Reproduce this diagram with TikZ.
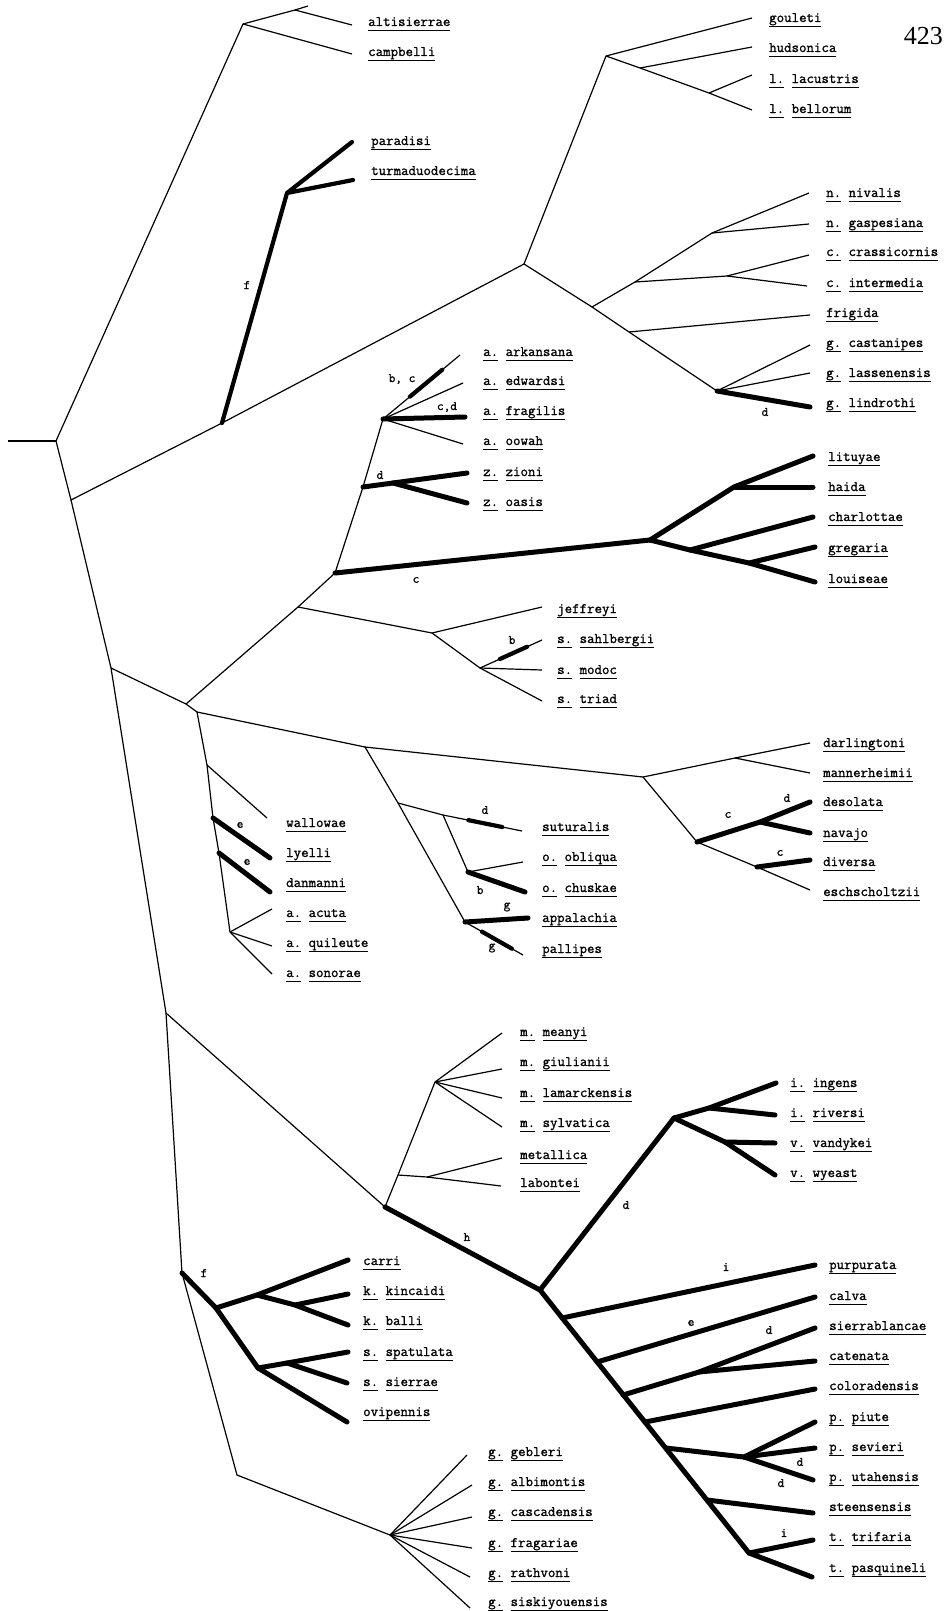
\documentclass[tikz,border=0pt]{standalone}
\usepackage{fontspec}
\newfontfamily\pagefont{Liberation Serif}
\newfontfamily\labfont{Latin Modern Mono}[FakeBold=1.2]
\usetikzlibrary{calc}
\newcommand\ulw[1]{\setbox0=\hbox{#1}\rlap{\rule[-4.5pt]{\wd0}{0.9pt}}\box0\relax}
\begin{document}
\begin{tikzpicture}[x=1pt,y=-1pt,
  br/.style={line width=1.2pt, line join=round},
  fat/.style={line width=5pt, line cap=round, line join=round},
  mid/.style={line width=4.2pt, line cap=round},
  lab/.style={anchor=base west, inner sep=0pt, font=\labfont\fontsize{14.5}{16}\selectfont},
  mk/.style={inner sep=0pt, font=\labfont\fontsize{13}{14}\selectfont}]
\useasboundingbox (0,0) rectangle (944,1611);
\fill[white] (0,0) rectangle (944,1611);

% ---------- coordinates: internal nodes ----------
\coordinate (s0) at (8,441);
\coordinate (R) at (56,441);
\coordinate (A1) at (243,24);
\coordinate (A2) at (295,10);
\coordinate (A2t) at (308,6);
\coordinate (B) at (71,500);
\coordinate (C) at (222,423);
\coordinate (F1) at (287,193);
\coordinate (D) at (524,264);
\coordinate (E) at (606,56);
\coordinate (F) at (640,68);
\coordinate (G) at (709,93);
\coordinate (H) at (592,307);
\coordinate (K) at (635,282);
\coordinate (J) at (712,233);
\coordinate (L) at (727,276);
\coordinate (M) at (629,332);
\coordinate (N) at (717,391);
\coordinate (O) at (111,668);
\coordinate (Q) at (186,704);
\coordinate (T) at (298,607);
\coordinate (S) at (335,573);
\coordinate (Y) at (363,487);
\coordinate (X) at (383,419);
\coordinate (Yz) at (393,483);
\coordinate (U) at (432,633);
\coordinate (V) at (480,668);
\coordinate (W) at (650,540);
\coordinate (Z1) at (734,487);
\coordinate (Z2) at (690,550);
\coordinate (Z3) at (749,563);
\coordinate (AA) at (197,712);
\coordinate (AE1) at (207,765);
\coordinate (AE2) at (213,818);
\coordinate (AE3) at (219,853);
\coordinate (AD) at (230,932);
\coordinate (AB) at (365,747);
\coordinate (AG) at (398,803);
\coordinate (AH) at (443,815);
\coordinate (AI) at (468,872);
\coordinate (AF) at (465,922);
\coordinate (AC) at (643,777);
\coordinate (AJ) at (735,758);
\coordinate (AK) at (697,842);
\coordinate (AL) at (760,822);
\coordinate (AM) at (757,867);
\coordinate (P) at (166,1013);
\coordinate (BA) at (385,1207);
\coordinate (BD) at (398,1175);
\coordinate (BC) at (435,1082);
\coordinate (BE) at (427,1177);
\coordinate (BF) at (540,1290);
\coordinate (BG) at (674,1118);
\coordinate (BH) at (709,1108);
\coordinate (BI) at (725,1142);
\coordinate (BJ) at (749,1553);
\coordinate (n1) at (562,1318);
\coordinate (n2) at (597,1362);
\coordinate (n3) at (623,1395);
\coordinate (n4) at (645,1422);
\coordinate (n5) at (666,1448);
\coordinate (n6) at (707,1500);
\coordinate (SB) at (699,1372);
\coordinate (PN) at (744,1457);
\coordinate (BB) at (182,1273);
\coordinate (BK) at (216,1308);
\coordinate (BL) at (258,1368);
\coordinate (BM) at (257,1295);
\coordinate (BN) at (295,1305);
\coordinate (BQ) at (287,1363);
\coordinate (BO) at (237,1475);
\coordinate (BP) at (390,1535);

% ---------- coordinates: branch ends ----------
\coordinate (eAlt) at (352,25);
\coordinate (eCamp) at (352,54);
\coordinate (ePar) at (352,142);
\coordinate (eTur) at (353,180);
\coordinate (eGou) at (752,18);
\coordinate (eHud) at (752,47);
\coordinate (eLac) at (752,75);
\coordinate (eBel) at (752,110);
\coordinate (eNiv) at (809,193);
\coordinate (eGas) at (809,224);
\coordinate (eCra) at (809,255);
\coordinate (eInt) at (807,286);
\coordinate (eFri) at (810,315);
\coordinate (eCas) at (810,345);
\coordinate (eLas) at (810,373);
\coordinate (eLin) at (810,407);
\coordinate (eArk) at (460,355);
\coordinate (eEdw) at (463,383);
\coordinate (eFra) at (465,417);
\coordinate (eOow) at (463,444);
\coordinate (eZio) at (467,473);
\coordinate (eOas) at (467,503);
\coordinate (eJef) at (542,607);
\coordinate (eSah) at (542,640);
\coordinate (eMod) at (542,670);
\coordinate (eTri) at (542,701);
\coordinate (eLit) at (813,456);
\coordinate (eHai) at (813,487);
\coordinate (eCha) at (813,517);
\coordinate (eGre) at (815,547);
\coordinate (eLou) at (815,582);
\coordinate (eWal) at (267,818);
\coordinate (eLye) at (270,858);
\coordinate (eDan) at (270,892);
\coordinate (eAcu) at (272,909);
\coordinate (eQui) at (272,946);
\coordinate (eSon) at (272,974);
\coordinate (eSut) at (522,831);
\coordinate (eObl) at (523,862);
\coordinate (eChu) at (525,892);
\coordinate (eApp) at (528,918);
\coordinate (ePal) at (523,955);
\coordinate (eDar) at (810,743);
\coordinate (eMan) at (810,773);
\coordinate (eDes) at (810,802);
\coordinate (eNav) at (810,833);
\coordinate (eDiv) at (810,860);
\coordinate (eEsc) at (810,890);
\coordinate (eMea) at (502,1033);
\coordinate (eGiu) at (502,1069);
\coordinate (eLam) at (502,1098);
\coordinate (eSyl) at (502,1127);
\coordinate (eMet) at (502,1158);
\coordinate (eLab) at (501,1186);
\coordinate (eIng) at (776,1083);
\coordinate (eRiv) at (775,1115);
\coordinate (eVan) at (775,1143);
\coordinate (eWye) at (775,1175);
\coordinate (ePur) at (815,1265);
\coordinate (eCal) at (815,1297);
\coordinate (eSie) at (815,1328);
\coordinate (eCat) at (815,1361);
\coordinate (eCol) at (815,1389);
\coordinate (ePiu) at (815,1422);
\coordinate (eSev) at (815,1448);
\coordinate (eUta) at (813,1480);
\coordinate (eSte) at (813,1513);
\coordinate (eTrf) at (813,1540);
\coordinate (ePas) at (812,1577);
\coordinate (eCar) at (348,1260);
\coordinate (eKin) at (348,1294);
\coordinate (eBal) at (348,1325);
\coordinate (eSpa) at (348,1352);
\coordinate (eSir) at (347,1383);
\coordinate (eOvi) at (347,1422);
\coordinate (eGeb) at (467,1455);
\coordinate (eAlb) at (472,1485);
\coordinate (eCsc) at (472,1517);
\coordinate (eFrg) at (472,1548);
\coordinate (eRat) at (470,1577);
\coordinate (eSis) at (470,1608);

% ---------- branches ----------
\draw[br] (s0) -- (R);
\draw[br] (R) -- (A1) -- (A2) -- (A2t);
\draw[br] (A2) -- (eAlt);
\draw[br] (A1) -- (eCamp);
\draw[br] (R) -- (B) -- (C) -- (D);
\draw[mid, line join=round] (C) -- (F1) -- (ePar);
\draw[mid] (F1) -- (eTur);
\draw[br] (D) -- (E) -- (eGou);
\draw[br] (E) -- (F) -- (G) -- (eBel);
\draw[br] (F) -- (eHud);
\draw[br] (G) -- (eLac);
\draw[br] (D) -- (H) -- (K) -- (J) -- (eNiv);
\draw[br] (J) -- (eGas);
\draw[br] (K) -- (L) -- (eCra);
\draw[br] (L) -- (eInt);
\draw[br] (H) -- (M) -- (N) -- (eCas);
\draw[br] (M) -- (eFri);
\draw[br] (N) -- (eLas);
\draw[fat] (N) -- (eLin);

\draw[br] (B) -- (O) -- (P) -- (BB);
\draw[br] (O) -- (Q) -- (T) -- (S) -- (Y) -- (X);
\draw[br] (X) -- (eArk);
\draw[mid] ($(X)!0.35!(eArk)$) -- ($(X)!0.77!(eArk)$);
\draw[br] (X) -- (eEdw);
\draw[fat] (X) -- (eFra);
\draw[br] (X) -- (eOow);
\draw[fat] (Y) -- (Yz) -- (eZio);
\draw[fat] (Yz) -- (eOas);
\draw[fat] (S) -- (W);
\draw[fat] (W) -- (Z1) -- (eLit);
\draw[fat] (Z1) -- (eHai);
\draw[fat] (W) -- (Z2) -- (eCha);
\draw[fat] (Z2) -- (Z3) -- (eGre);
\draw[fat] (Z3) -- (eLou);
\draw[br] (T) -- (U) -- (eJef);
\draw[br] (U) -- (V) -- (eSah);
\draw[mid] ($(V)!0.32!(eSah)$) -- ($(V)!0.76!(eSah)$);
\draw[br] (V) -- (eMod);
\draw[br] (V) -- (eTri);

\draw[br] (Q) -- (AA) -- (AE1) -- (AE2) -- (AE3) -- (AD);
\draw[br] (AE1) -- (eWal);
\draw[fat] (AE2) -- (eLye);
\draw[fat] (AE3) -- (eDan);
\draw[br] (AD) -- (eAcu);
\draw[br] (AD) -- (eQui);
\draw[br] (AD) -- (eSon);
\draw[br] (AA) -- (AB) -- (AC);
\draw[br] (AB) -- (AG) -- (AF);
\draw[br] (AG) -- (AH) -- (eSut);
\draw[mid] ($(AH)!0.32!(eSut)$) -- ($(AH)!0.75!(eSut)$);
\draw[br] (AH) -- (AI) -- (eObl);
\draw[fat] (AI) -- (eChu);
\draw[fat] (AF) -- (eApp);
\draw[br] (AF) -- (ePal);
\draw[mid] ($(AF)!0.29!(ePal)$) -- ($(AF)!0.81!(ePal)$);
\draw[br] (AC) -- (AJ) -- (eDar);
\draw[br] (AJ) -- (eMan);
\draw[br] (AC) -- (AK) -- (AM) -- (eEsc);
\draw[fat] (AK) -- (AL) -- (eDes);
\draw[fat] (AL) -- (eNav);
\draw[fat] (AM) -- (eDiv);

\draw[br] (P) -- (BA) -- (BD) -- (BC);
\draw[br] (BC) -- (eMea);
\draw[br] (BC) -- (eGiu);
\draw[br] (BC) -- (eLam);
\draw[br] (BC) -- (eSyl);
\draw[br] (BD) -- (BE) -- (eMet);
\draw[br] (BE) -- (eLab);
\draw[fat] (BA) -- (BF) -- (BG) -- (BH) -- (eIng);
\draw[fat] (BH) -- (eRiv);
\draw[fat] (BG) -- (BI) -- (eVan);
\draw[fat] (BI) -- (eWye);
\draw[fat] (BF) -- (BJ) -- (ePas);
\draw[fat] (BJ) -- (eTrf);
\draw[fat] (n1) -- (ePur);
\draw[fat] (n2) -- (eCal);
\draw[fat] (n3) -- (SB) -- (eSie);
\draw[fat] (SB) -- (eCat);
\draw[fat] (n4) -- (eCol);
\draw[fat] (n5) -- (PN) -- (ePiu);
\draw[fat] (PN) -- (eSev);
\draw[fat] (PN) -- (eUta);
\draw[fat] (n6) -- (eSte);

\draw[fat] (BB) -- (BK) -- (BL) -- (eOvi);
\draw[fat] (BK) -- (BM) -- (eCar);
\draw[fat] (BM) -- (BN) -- (eBal);
\draw[fat] (BN) -- (eKin);
\draw[fat] (BL) -- (BQ) -- (eSpa);
\draw[fat] (BQ) -- (eSir);
\draw[br] (BB) -- (BO) -- (BP);
\draw[br] (BP) -- (eGeb);
\draw[br] (BP) -- (eAlb);
\draw[br] (BP) -- (eCsc);
\draw[br] (BP) -- (eFrg);
\draw[br] (BP) -- (eRat);
\draw[br] (BP) -- (eSis);

% ---------- taxon labels ----------
\node[lab] (tAlt) at (368,26) {\ulw{altisierrae}};
\node[lab] (tCamp) at (368,56) {\ulw{campbelli}};
\node[lab] (tPar) at (371,145) {\ulw{paradisi}};
\node[lab] (tTur) at (371,175) {\ulw{turmaduodecima}};
\node[lab] (tGou) at (769,22) {\ulw{gouleti}};
\node[lab] (tHud) at (769,52) {\ulw{hudsonica}};
\node[lab] (tLac) at (769,83) {\ulw{l.} \ulw{lacustris}};
\node[lab] (tBel) at (769,113) {\ulw{l.} \ulw{bellorum}};
\node[lab] (tNiv) at (826,197) {\ulw{n.} \ulw{nivalis}};
\node[lab] (tGas) at (826,227) {\ulw{n.} \ulw{gaspesiana}};
\node[lab] (tCra) at (826,256) {\ulw{c.} \ulw{crassicornis}};
\node[lab] (tInt) at (826,287) {\ulw{c.} \ulw{intermedia}};
\node[lab] (tFri) at (826,317) {\ulw{frigida}};
\node[lab] (tCas) at (826,347) {\ulw{g.} \ulw{castanipes}};
\node[lab] (tLas) at (826,377) {\ulw{g.} \ulw{lassenensis}};
\node[lab] (tLin) at (826,407) {\ulw{g.} \ulw{lindrothi}};
\node[lab] (tArk) at (483,356) {\ulw{a.} \ulw{arkansana}};
\node[lab] (tEdw) at (483,385) {\ulw{a.} \ulw{edwardsi}};
\node[lab] (tFra) at (483,415) {\ulw{a.} \ulw{fragilis}};
\node[lab] (tOow) at (483,445) {\ulw{a.} \ulw{oowah}};
\node[lab] (tZio) at (483,476) {\ulw{z.} \ulw{zioni}};
\node[lab] (tOas) at (483,506) {\ulw{z.} \ulw{oasis}};
\node[lab] (tLit) at (828,461) {\ulw{lituyae}};
\node[lab] (tHai) at (828,491) {\ulw{haida}};
\node[lab] (tCha) at (828,521) {\ulw{charlottae}};
\node[lab] (tGre) at (828,552) {\ulw{gregaria}};
\node[lab] (tLou) at (828,583) {\ulw{louiseae}};
\node[lab] (tJef) at (557,613) {\ulw{jeffreyi}};
\node[lab] (tSah) at (557,643) {\ulw{s.} \ulw{sahlbergii}};
\node[lab] (tMod) at (557,674) {\ulw{s.} \ulw{modoc}};
\node[lab] (tTri) at (557,703) {\ulw{s.} \ulw{triad}};
\node[lab] (tWal) at (286,827) {\ulw{wallowae}};
\node[lab] (tLye) at (286,857) {\ulw{lyelli}};
\node[lab] (tDan) at (286,887) {\ulw{danmanni}};
\node[lab] (tAcu) at (286,917) {\ulw{a.} \ulw{acuta}};
\node[lab] (tQui) at (286,947) {\ulw{a.} \ulw{quileute}};
\node[lab] (tSon) at (286,977) {\ulw{a.} \ulw{sonorae}};
\node[lab] (tSut) at (542,831) {\ulw{suturalis}};
\node[lab] (tObl) at (542,861) {\ulw{o.} \ulw{obliqua}};
\node[lab] (tChu) at (542,892) {\ulw{o.} \ulw{chuskae}};
\node[lab] (tApp) at (542,922) {\ulw{appalachia}};
\node[lab] (tPal) at (542,953) {\ulw{pallipes}};
\node[lab] (tDar) at (823,747) {\ulw{darlingtoni}};
\node[lab] (tMan) at (823,777) {\ulw{mannerheimii}};
\node[lab] (tDes) at (823,806) {\ulw{desolata}};
\node[lab] (tNav) at (823,837) {\ulw{navajo}};
\node[lab] (tDiv) at (823,866) {\ulw{diversa}};
\node[lab] (tEsc) at (823,896) {\ulw{eschscholtzii}};
\node[lab] (tMea) at (520,1036) {\ulw{m.} \ulw{meanyi}};
\node[lab] (tGiu) at (520,1066) {\ulw{m.} \ulw{giulianii}};
\node[lab] (tLam) at (520,1097) {\ulw{m.} \ulw{lamarckensis}};
\node[lab] (tSyl) at (520,1127) {\ulw{m.} \ulw{sylvatica}};
\node[lab] (tMet) at (520,1159) {\ulw{metallica}};
\node[lab] (tLab) at (520,1187) {\ulw{labontei}};
\node[lab] (tIng) at (790,1087) {\ulw{i.} \ulw{ingens}};
\node[lab] (tRiv) at (790,1117) {\ulw{i.} \ulw{riversi}};
\node[lab] (tVan) at (790,1147) {\ulw{v.} \ulw{vandykei}};
\node[lab] (tWye) at (790,1177) {\ulw{v.} \ulw{wyeast}};
\node[lab] (tPur) at (829,1269) {\ulw{purpurata}};
\node[lab] (tCal) at (829,1300) {\ulw{calva}};
\node[lab] (tSie) at (829,1330) {\ulw{sierrablancae}};
\node[lab] (tCat) at (829,1360) {\ulw{catenata}};
\node[lab] (tCol) at (829,1390) {\ulw{coloradensis}};
\node[lab] (tPiu) at (829,1421) {\ulw{p.} \ulw{piute}};
\node[lab] (tSev) at (829,1451) {\ulw{p.} \ulw{sevieri}};
\node[lab] (tUta) at (829,1481) {\ulw{p.} \ulw{utahensis}};
\node[lab] (tSte) at (829,1511) {\ulw{steensensis}};
\node[lab] (tTrf) at (829,1541) {\ulw{t.} \ulw{trifaria}};
\node[lab] (tPas) at (829,1572) {\ulw{t.} \ulw{pasquineli}};
\node[lab] (tCar) at (363,1265) {\ulw{carri}};
\node[lab] (tKin) at (363,1295) {\ulw{k.} \ulw{kincaidi}};
\node[lab] (tBal) at (363,1325) {\ulw{k.} \ulw{balli}};
\node[lab] (tSpa) at (363,1356) {\ulw{s.} \ulw{spatulata}};
\node[lab] (tSir) at (363,1386) {\ulw{s.} \ulw{sierrae}};
\node[lab] (tOvi) at (363,1416) {\ulw{ovipennis}};
\node[lab] (tGeb) at (488,1456) {\ulw{g.} \ulw{gebleri}};
\node[lab] (tAlb) at (488,1486) {\ulw{g.} \ulw{albimontis}};
\node[lab] (tCsc) at (488,1516) {\ulw{g.} \ulw{cascadensis}};
\node[lab] (tFrg) at (488,1547) {\ulw{g.} \ulw{fragariae}};
\node[lab] (tRat) at (488,1577) {\ulw{g.} \ulw{rathvoni}};
\node[lab] (tSis) at (488,1606) {\ulw{g.} \ulw{siskiyouensis}};

% ---------- character labels ----------
\node[mk] (mF1) at (247,285) {f};
\node[mk] (mBC) at (402,379) {b, c};
\node[mk] (mCD) at (447,407) {c,d};
\node[mk] (mD1) at (380,475) {d};
\node[mk] (mD2) at (765,412) {d};
\node[mk] (mC1) at (416,580) {c};
\node[mk] (mB1) at (512,640) {b};
\node[mk] (mE1) at (240,825) {e};
\node[mk] (mE2) at (247,862) {e};
\node[mk] (mD3) at (485,810) {d};
\node[mk] (mB2) at (480,890) {b};
\node[mk] (mG1) at (507,907) {g};
\node[mk] (mG2) at (492,948) {g};
\node[mk] (mC2) at (728,815) {c};
\node[mk] (mD4) at (787,798) {d};
\node[mk] (mC3) at (780,853) {c};
\node[mk] (mH) at (467,1237) {h};
\node[mk] (mD5) at (626,1205) {d};
\node[mk] (mI1) at (726,1267) {i};
\node[mk] (mE3) at (691,1323) {e};
\node[mk] (mD6) at (769,1330) {d};
\node[mk] (mD7) at (800,1462) {d};
\node[mk] (mD8) at (781,1483) {d};
\node[mk] (mI2) at (784,1533) {i};
\node[mk] (mF2) at (204,1273) {f};

% page number
\node[anchor=base east, inner sep=0pt, font=\pagefont\fontsize{26}{28}\selectfont] (pg) at (943,45) {423};
\end{tikzpicture}
\end{document}
